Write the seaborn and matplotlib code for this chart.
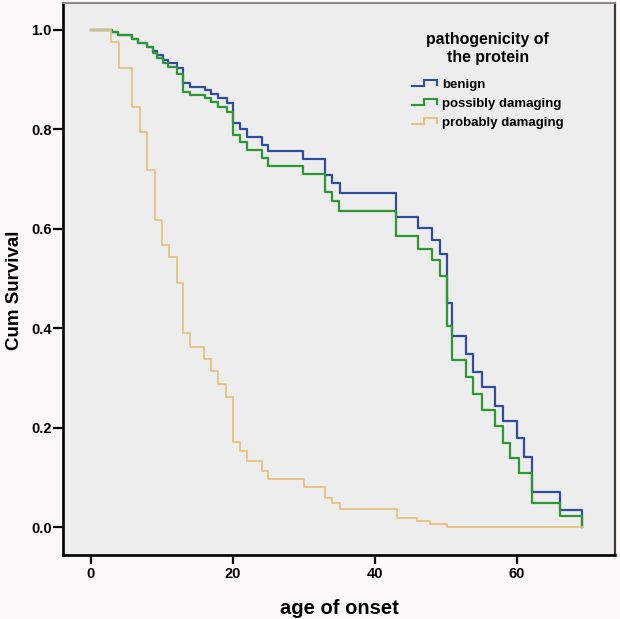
import numpy as np
import pandas as pd
import matplotlib
matplotlib.use("Agg")
import matplotlib.pyplot as plt
from matplotlib.lines import Line2D
from matplotlib.legend_handler import HandlerBase
import seaborn as sns

# ---------------- data ----------------
groups = ["benign", "possibly damaging", "probably damaging"]

times_benign = [0, 2.98, 3.9, 5.8, 6.7, 7.9, 8.8, 9.3, 10.2, 10.9, 12.1, 13.05, 14.0,
                16.1, 17.0, 18.0, 19.2, 20.1, 21.0, 22.0, 24.1, 25.0, 29.9, 33.0,
                33.9, 35.1, 43.0, 46.0, 48.0, 49.1, 50.1, 50.9, 52.8, 53.8, 55.0,
                56.9, 58.0, 60.0, 61.0, 62.05, 66.0, 69.1]
surv_benign = [1.0, 0.995, 0.989, 0.982, 0.974, 0.966, 0.958, 0.950, 0.940, 0.933,
               0.923, 0.893, 0.886, 0.879, 0.871, 0.863, 0.853, 0.812, 0.800, 0.785,
               0.769, 0.757, 0.740, 0.709, 0.692, 0.672, 0.624, 0.601, 0.578, 0.550,
               0.451, 0.385, 0.349, 0.313, 0.282, 0.244, 0.213, 0.179, 0.142, 0.072,
               0.035, 0.0]

times_possibly = [0, 2.98, 3.9, 5.8, 6.7, 7.9, 8.8, 9.3, 10.2, 10.9, 12.1, 13.05, 14.0,
                  16.1, 17.0, 18.0, 19.2, 20.1, 21.0, 22.0, 24.1, 25.0, 29.9, 33.0,
                  33.9, 35.0, 43.0, 46.0, 48.0, 49.1, 50.1, 50.9, 52.8, 53.8, 55.0,
                  56.9, 58.0, 59.0, 60.2, 62.05, 66.0, 69.1]
surv_possibly = [1.0, 0.995, 0.989, 0.982, 0.974, 0.966, 0.953, 0.944, 0.934, 0.926,
                 0.912, 0.875, 0.869, 0.863, 0.856, 0.846, 0.834, 0.789, 0.775, 0.759,
                 0.742, 0.727, 0.711, 0.675, 0.657, 0.635, 0.585, 0.559, 0.538, 0.506,
                 0.404, 0.337, 0.302, 0.268, 0.236, 0.203, 0.169, 0.139, 0.109, 0.050,
                 0.023, 0.0]

times_probably = [0, 2.9, 4.05, 5.9, 6.96, 8.0, 9.07, 10.0, 11.0, 12.1, 13.05, 14.0,
                  16.0, 16.95, 18.0, 19.0, 20.0, 21.0, 22.0, 24.1, 25.0, 30.0, 33.0,
                  34.0, 35.1, 43.1, 45.9, 47.75, 50.1, 69.1]
surv_probably = [1.0, 0.976, 0.923, 0.846, 0.795, 0.719, 0.618, 0.568, 0.544, 0.491,
                 0.390, 0.363, 0.339, 0.315, 0.288, 0.263, 0.172, 0.154, 0.134, 0.114,
                 0.097, 0.082, 0.060, 0.049, 0.037, 0.020, 0.014, 0.008, 0.0, 0.0]

x_ticks = [0, 20, 40, 60]
y_ticks = [0.0, 0.2, 0.4, 0.6, 0.8, 1.0]
legend_title = "pathogenicity of\nthe protein"
x_label = "age of onset"
y_label = "Cum Survival"

df = pd.concat([
    pd.DataFrame({"age": times_benign, "surv": surv_benign, "group": groups[0]}),
    pd.DataFrame({"age": times_possibly, "surv": surv_possibly, "group": groups[1]}),
    pd.DataFrame({"age": times_probably, "surv": surv_probably, "group": groups[2]}),
], ignore_index=True)

palette = {groups[0]: "#2F4C9E", groups[1]: "#2F9634", groups[2]: "#E6C27E"}

# ---------------- figure ----------------
plt.rcParams["font.family"] = ["Liberation Sans", "DejaVu Sans"]
fig = plt.figure(figsize=(6.2, 6.19), dpi=100, facecolor="#FCF9F9")
ax = fig.add_axes([63 / 620, 1 - 555 / 619, 552 / 620, 552 / 619])
ax.set_facecolor("#EDEDED")

sns.lineplot(data=df, x="age", y="surv", hue="group", hue_order=groups,
             palette=palette, estimator=None, sort=False, drawstyle="steps-post",
             linewidth=1.6, ax=ax, legend=True)
for ln in ax.get_lines():
    if ln.get_color().lower() == palette[groups[2]].lower():
        ln.set_linewidth(1.3)

ax.set_xlim(-3.87, 73.77)
ax.set_ylim(-0.0553, 1.054)
ax.set_xticks(x_ticks)
ax.set_yticks(y_ticks)
ax.set_xticklabels([str(v) for v in x_ticks], fontweight="bold", fontsize=10.5)
ax.set_yticklabels([f"{v:.1f}" for v in y_ticks], fontweight="bold", fontsize=10.5)
ax.tick_params(axis="x", length=6.5, width=1.6, pad=2.5, color="black")
ax.tick_params(axis="y", length=7.2, width=1.6, pad=1, color="black")

ax.set_xlabel(x_label, fontweight="bold", fontsize=14.5)
ax.set_ylabel(y_label, fontweight="bold", fontsize=13.5)
ax.xaxis.set_label_coords(0.5, -0.08)
ax.yaxis.set_label_coords(-0.073, 0.48)

ax.spines["left"].set_linewidth(1.9)
ax.spines["bottom"].set_linewidth(1.9)
ax.spines["left"].set_color("black")
ax.spines["bottom"].set_color("black")
ax.spines["top"].set_linewidth(1.4)
ax.spines["top"].set_color("#8C847F")
ax.spines["right"].set_linewidth(1.6)
ax.spines["right"].set_color("#3A3A3A")


class StepHandler(HandlerBase):
    def create_artists(self, legend, orig_handle, xdescent, ydescent, width,
                       height, fontsize, trans):
        xs = np.array([0.0, 0.48, 0.48, 0.97, 0.97]) * width - xdescent
        ys = np.array([0.25, 0.25, 0.9, 0.9, 0.35]) * height - ydescent
        line = Line2D(xs, ys, color=orig_handle.get_color(),
                      linewidth=1.5, solid_joinstyle="miter")
        line.set_transform(trans)
        return [line]


handles, labels = ax.get_legend_handles_labels()
leg = ax.legend(handles, labels, handler_map={Line2D: StepHandler()},
                title=legend_title, loc="upper left",
                bbox_to_anchor=((411.7 - 63) / 552, (555 - 32) / 552),
                frameon=False, borderpad=0, borderaxespad=0,
                handlelength=1.95, handletextpad=0.36, labelspacing=0.5,
                prop={"weight": "bold", "size": 9.5})
leg.get_title().set_fontweight("bold")
leg.get_title().set_fontsize(11.4)
leg.get_title().set_multialignment("center")
leg.get_title().set_linespacing(1.28)
leg._legend_box.sep = 10

fig.savefig("out.png", dpi=100, facecolor=fig.get_facecolor())
